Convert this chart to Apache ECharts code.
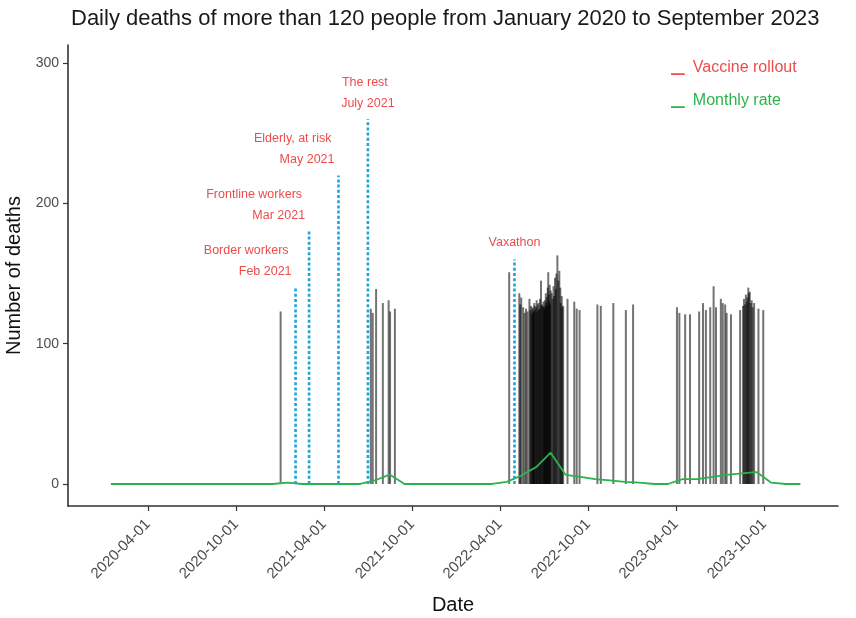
<!DOCTYPE html>
<html><head><meta charset="utf-8">
<script src="https://cdn.jsdelivr.net/npm/echarts@6/dist/echarts.min.js"></script>
<style>html,body{margin:0;padding:0;background:#fff}#c{width:856px;height:618px}</style>
</head><body><div id="c"></div>
<script>
// ---- data ----
const deathDates = [
 '2021-01-01','2021-07-07','2021-07-11','2021-07-18','2021-08-01','2021-08-13','2021-08-16','2021-08-26',
 '2022-04-20','2022-05-11','2022-05-13','2022-05-15','2022-05-19','2022-05-22','2022-05-25','2022-05-28',
 '2022-06-01','2022-06-03','2022-06-04','2022-06-06','2022-06-07','2022-06-08','2022-06-09','2022-06-10',
 '2022-06-11','2022-06-12','2022-06-13','2022-06-15','2022-06-16','2022-06-17','2022-06-18','2022-06-20',
 '2022-06-21','2022-06-22','2022-06-23','2022-06-25','2022-06-26','2022-06-27','2022-06-29','2022-06-30',
 '2022-07-01','2022-07-02','2022-07-03','2022-07-04','2022-07-05','2022-07-06','2022-07-07','2022-07-08',
 '2022-07-09','2022-07-10','2022-07-11','2022-07-12','2022-07-13','2022-07-14','2022-07-15','2022-07-17',
 '2022-07-19','2022-07-21','2022-07-22','2022-07-24','2022-07-26','2022-07-27','2022-07-29','2022-07-31',
 '2022-08-02','2022-08-04','2022-08-05','2022-08-07','2022-08-08','2022-08-10','2022-08-19',
 '2022-09-02','2022-09-07','2022-09-13','2022-10-20','2022-10-27','2022-11-22','2022-12-18','2023-01-02',
 '2023-04-03','2023-04-08','2023-04-20','2023-04-30','2023-05-19','2023-05-27','2023-06-02','2023-06-11',
 '2023-06-18','2023-06-23','2023-07-03','2023-07-07','2023-07-12','2023-07-15','2023-07-24','2023-08-12',
 '2023-08-18','2023-08-20','2023-08-22','2023-08-24','2023-08-26','2023-08-27','2023-08-29','2023-08-30',
 '2023-09-01','2023-09-03','2023-09-05','2023-09-07','2023-09-10','2023-09-19','2023-09-29'
];
const deathValues = [
 123,125,122,139,129,131,123,125,
 151,136,128,133,126,122,125,123,
 132,124,127,121,126,125,123,122,
 129,127,124,126,131,123,128,129,
 124,125,132,145,127,128,126,130,
 127,124,131,126,136,129,133,127,
 140,151,135,130,142,128,138,136,
 132,141,134,147,139,150,163,145,
 152,140,129,134,126,127,132,
 130,125,124,128,127,129,124,128,
 126,122,121,121,123,129,124,126,
 141,126,132,129,128,122,121,124,
 127,132,128,135,130,133,140,136,
 137,129,131,126,129,125,124
];
const monthDates = [
 '2020-01-15','2020-02-15','2020-03-15','2020-04-15','2020-05-15','2020-06-15','2020-07-15','2020-08-15','2020-09-15','2020-10-15','2020-11-15','2020-12-15',
 '2021-01-15','2021-02-15','2021-03-15','2021-04-15','2021-05-15','2021-06-15','2021-07-15','2021-08-15','2021-09-15','2021-10-15','2021-11-15','2021-12-15',
 '2022-01-15','2022-02-15','2022-03-15','2022-04-15','2022-05-15','2022-06-15','2022-07-15','2022-08-15','2022-09-15','2022-10-15','2022-11-15','2022-12-15',
 '2023-01-15','2023-02-15','2023-03-15','2023-04-15','2023-05-15','2023-06-15','2023-07-15','2023-08-15','2023-09-15','2023-10-15','2023-11-15','2023-12-15'
];
const monthValues = [
 0,0,0,0,0,0,0,0,0,0,0,0,
 1,0,0,0,0,0,2.5,6.7,0,0,0,0,
 0,0,0,1.5,6,12,22.3,6.5,5,3.5,2.5,1.5,
 1,0,0,3.5,3.5,5,6.5,7.5,8.5,1,0,0
];
const rolloutDates = ['2021-02-01','2021-03-01','2021-05-01','2021-07-01','2022-05-01'];
const rolloutHeights = [140,180,220,260,160];
const rolloutNames = ['Border workers','Frontline workers','Elderly, at risk','The rest','Vaxathon'];
const rolloutMonths = ['Feb 2021','Mar 2021','May 2021','July 2021',''];
const xTickDates = ['2020-04-01','2020-10-01','2021-04-01','2021-10-01','2022-04-01','2022-10-01','2023-04-01','2023-10-01'];
const yTicks = [0,100,200,300];

// ---- rendering ----
function toTs(s){ const p=s.split('-').map(Number); return Date.UTC(p[0],p[1]-1,p[2]); }
function fmt(v){ const d=new Date(v); const p=n=>String(n).padStart(2,'0'); return d.getUTCFullYear()+'-'+p(d.getUTCMonth()+1)+'-'+p(d.getUTCDate()); }
const labelAlign = ['right','right','right','center','center'];
const RED = '#ee4b4b', GREEN = '#2bb34b', BLUE = '#1fa3da';
const FONT = '"Liberation Sans", Arial, sans-serif';
const ICON = 'path://M0 0L0.01 0L0.01 0.01Z M0 9L10 9L10 10.2L0 10.2Z';

const chart = echarts.init(document.getElementById('c'), null, {renderer:'canvas'});
const xTicks = xTickDates.map(toTs);
const option = {
  animation:false,
  backgroundColor:'#fff',
  textStyle:{fontFamily:FONT},
  title:{text:'Daily deaths of more than 120 people from January 2020 to September 2023',
    left:66, top:3, textStyle:{fontSize:22, fontWeight:'normal', color:'#1a1a1a', fontFamily:FONT}},
  legend:{orient:'vertical', left:666, top:55, itemWidth:20, itemHeight:14, itemGap:17, selectedMode:false,
    textStyle:{fontSize:16, fontFamily:FONT},
    data:[
      {name:'Vaccine rollout', icon:ICON, itemStyle:{color:RED}, textStyle:{color:RED}},
      {name:'Monthly rate', icon:ICON, itemStyle:{color:GREEN}, textStyle:{color:GREEN}}
    ]},
  grid:{left:68, right:18, top:45, bottom:112, outerBoundsMode:'none', containLabel:false},
  xAxis:{type:'value', min:toTs('2019-10-18'), max:toTs('2024-03-02'),
    name:'Date', nameLocation:'middle', nameGap:89, nameTextStyle:{fontSize:20, color:'#111', fontFamily:FONT},
    axisLine:{onZero:false, lineStyle:{color:'#333', width:1.6}},
    axisTick:{customValues:xTicks, length:5, lineStyle:{color:'#333', width:1.2}},
    axisLabel:{customValues:xTicks, rotate:45, margin:16, fontSize:15, color:'#4d4d4d', fontFamily:FONT,
      formatter:v=>fmt(v)},
    splitLine:{show:false}},
  yAxis:{type:'value', min:-15.7, max:313,
    name:'Number of deaths', nameLocation:'middle', nameGap:41, nameRotate:90, nameTextStyle:{fontSize:20, color:'#111', fontFamily:FONT},
    axisLine:{show:true, onZero:false, lineStyle:{color:'#333', width:1.6}},
    axisTick:{show:true, customValues:yTicks, length:5, lineStyle:{color:'#333', width:1.2}},
    axisLabel:{customValues:yTicks, margin:9, fontSize:14, color:'#4d4d4d', fontFamily:FONT},
    splitLine:{show:false}},
  series:[
    {name:'Daily deaths', type:'bar', barWidth:2, z:2,
      itemStyle:{color:'rgba(0,0,0,0.55)'},
      data:deathDates.map((d,i)=>[toTs(d), deathValues[i]])},
    {name:'Monthly rate', type:'line', showSymbol:false, z:4,
      lineStyle:{color:GREEN, width:1.8}, itemStyle:{color:GREEN},
      data:monthDates.map((d,i)=>[toTs(d), monthValues[i]])},
    {name:'Vaccine rollout', type:'custom', z:5, clip:false,
      itemStyle:{color:RED},
      encode:{x:0, y:1},
      data:rolloutDates.map((d,i)=>[toTs(d), rolloutHeights[i]]),
      renderItem:function(params, api){
        const i = params.dataIndex;
        const top = api.coord([api.value(0), api.value(1)]);
        const base = api.coord([api.value(0), 0]);
        const al = labelAlign[i];
        const dx = al==='right' ? -4 : 0;
        const children = [{type:'line', shape:{x1:base[0], y1:base[1], x2:top[0], y2:top[1]},
          style:{stroke:BLUE, lineWidth:2.6, lineDash:[3,2.2]}}];
        const tstyle = (t)=>({text:t, align:al, verticalAlign:'middle', fill:RED, font:'12.5px '+FONT});
        if (rolloutMonths[i]) {
          children.push({type:'text', x:top[0]+dx, y:top[1]-16, style:tstyle(rolloutMonths[i])});
          children.push({type:'text', x:top[0]+dx-3, y:top[1]-37, style:tstyle(rolloutNames[i])});
        } else {
          children.push({type:'text', x:top[0]+dx, y:top[1]-17, style:tstyle(rolloutNames[i])});
        }
        return {type:'group', children:children};
      }}
  ]
};
chart.setOption(option);
</script>
</body></html>
